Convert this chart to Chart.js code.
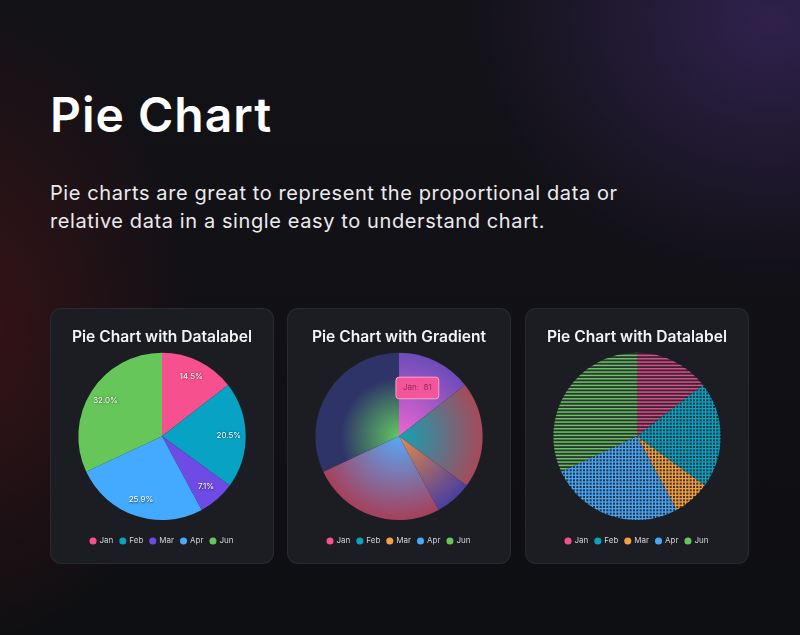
<!DOCTYPE html>
<html><head><meta charset="utf-8">
<script src="https://cdn.jsdelivr.net/npm/chart.js@4.4.1/dist/chart.umd.min.js"></script>
<style>
html,body{margin:0;padding:0;}
body{width:800px;height:635px;overflow:hidden;position:relative;font-family:Inter,'Open Sans',sans-serif;
background:
 radial-gradient(ellipse 300px 260px at 770px 20px, rgba(70,46,120,0.55), rgba(70,46,120,0) 100%),
 radial-gradient(ellipse 220px 320px at -30px 330px, rgba(100,22,24,0.45), rgba(100,22,24,0) 100%),
 linear-gradient(180deg,#131217 0%, #111015 55%, #0e0f12 100%);}
h1{position:absolute;left:50px;top:91px;margin:0;font-size:48px;font-weight:600;color:#ffffff;line-height:1;white-space:nowrap;letter-spacing:1px;}
p.desc{position:absolute;left:50px;top:179px;margin:0;font-size:20px;line-height:28px;color:#ebebee;white-space:nowrap;letter-spacing:0.6px;}
.card{position:absolute;top:308px;width:224px;height:256px;border-radius:11px;background:#1c1d23;box-shadow:inset 0 0 0 1px rgba(255,255,255,0.06);}
.card canvas{position:absolute;left:0;top:0;}
</style></head>
<body>
<h1>Pie Chart</h1>
<p class="desc">Pie charts are great to represent the proportional data or<br>relative data in a single easy to understand chart.</p>
<div class="card" style="left:50px"><canvas id="c1" width="224" height="300"></canvas></div>
<div class="card" style="left:287px"><canvas id="c2" width="224" height="300"></canvas></div>
<div class="card" style="left:525px"><canvas id="c3" width="224" height="300"></canvas></div>
<script>
const FONT = 'Inter';
const labels = ['Jan','Feb','Mar','Apr','Jun'];
const values = [81, 115, 40, 145, 179];
const chartTitles = ['Pie Chart with Datalabel','Pie Chart with Gradient','Pie Chart with Datalabel'];
const solidColors = ['#f7508e','#07a2c4','#6f4be6','#44aaff','#66c65a'];
const legendColors = ['#f7508e','#07a2c4','#f5a142','#44aaff','#66c65a'];
const gradientInner = ['#ee66d2','#12a2b6','#e88a46','#56a8f8','#62c862'];
const gradientOuter = ['#6c4cba','#a64a5a','#4a3f9e','#a6405a','#2e3468'];
const gradientStop = [1, 1, 1, 1, 0.7];
const patternColors = ['#d9508a','#0ba3c2','#f2a041','#4aa5f2','#6cc066'];
const patternKinds = ['lines','grid','grid','grid','lines'];

Chart.defaults.font.family = FONT;

function legendGen(colors){
  return function(chart){
    const base = (Chart.overrides.pie || Chart.overrides.doughnut).plugins.legend.labels.generateLabels(chart);
    base.forEach((it,i)=>{ it.fillStyle = colors[i]; it.strokeStyle = colors[i]; it.lineWidth = 0; });
    return base;
  };
}

function baseOptions(title, colors){
  return {
    responsive:false, animation:false,
    layout:{padding:{top:20,bottom:53,left:0,right:0}},
    plugins:{
      title:{display:true,text:title,color:'#f4f4f6',font:{family:FONT,size:15.6,weight:'600'},padding:{top:0,bottom:6}},
      legend:{position:'bottom',
        title:{display:true,text:'',font:{size:1},padding:{top:8.8,bottom:0}},
        labels:{usePointStyle:true,pointStyle:'circle',boxWidth:5,boxHeight:5,padding:7,color:'#d2d3d8',
          font:{family:FONT,size:8},generateLabels:legendGen(colors)}},
      tooltip:{enabled:false}
    }
  };
}

const percentLabels = {
  id:'percentLabels',
  afterDatasetsDraw(chart){
    const ctx = chart.ctx, meta = chart.getDatasetMeta(0), data = chart.data.datasets[0].data;
    const total = data.reduce((a,b)=>a+b,0);
    ctx.save();
    ctx.font = '400 8px ' + FONT; ctx.textAlign='center'; ctx.textBaseline='middle'; ctx.fillStyle='#ffffff';
    ctx.shadowColor='rgba(0,0,0,0.7)'; ctx.shadowBlur=2; ctx.shadowOffsetX=0.5; ctx.shadowOffsetY=0.5;
    meta.data.forEach((arc,i)=>{
      const p = arc.getProps(['x','y','startAngle','endAngle','outerRadius'],true);
      const a = (p.startAngle+p.endAngle)/2, r = p.outerRadius*0.8;
      ctx.fillText((data[i]/total*100).toFixed(1)+'%', p.x+Math.cos(a)*r, p.y+Math.sin(a)*r);
    });
    ctx.restore();
  }
};

// Chart 1
new Chart(document.getElementById('c1'), {
  type:'pie',
  data:{labels, datasets:[{data:values, backgroundColor:solidColors, borderWidth:0}]},
  options: baseOptions(chartTitles[0], solidColors),
  plugins:[percentLabels]
});

// Chart 2 (gradient)
function radialFill(c){
  const chart = c.chart, area = chart.chartArea;
  if (!area) return gradientInner[c.dataIndex];
  const cx = (area.left+area.right)/2, cy = (area.top+area.bottom)/2;
  const r = Math.min(area.right-area.left, area.bottom-area.top)/2;
  const g = chart.ctx.createRadialGradient(cx,cy,0,cx,cy,r);
  const i = c.dataIndex;
  g.addColorStop(0, gradientInner[i]);
  g.addColorStop(gradientStop[i], gradientOuter[i]);
  if (gradientStop[i] < 1) g.addColorStop(1, gradientOuter[i]);
  return g;
}
const o2 = baseOptions(chartTitles[1], legendColors);
o2.plugins.tooltip = {
  enabled:true, backgroundColor:'#f2559a', borderColor:'#f8a6c8', borderWidth:1, bodyColor:'#8e2c5a',
  displayColors:false, caretSize:0, caretPadding:0, cornerRadius:3, padding:{x:7,y:6},
  xAlign:'center', yAlign:'bottom', bodyFont:{family:FONT,size:8},
  callbacks:{title:()=>'', label:(c)=>c.label+':  '+c.formattedValue}
};
const chart2 = new Chart(document.getElementById('c2'), {
  type:'pie',
  data:{labels, datasets:[{data:values, backgroundColor:radialFill, borderWidth:0, hoverOffset:0}]},
  options:o2
});
chart2.tooltip.setActiveElements([{datasetIndex:0,index:0}], {x:0,y:0});
chart2.update();

// Chart 3 (patterns)
function makePattern(color, kind){
  const c = document.createElement('canvas'); c.width = 10; c.height = 10;
  const g = c.getContext('2d');
  g.globalAlpha = 0.16; g.fillStyle = color; g.fillRect(0,0,10,10);
  g.globalAlpha = 1;
  for (let k=0;k<3;k++){
    g.fillRect(0, k*10/3, 10, kind==='lines'?1.5:1.3);
    if (kind==='grid') g.fillRect(k*10/3, 0, 1.3, 10);
  }
  return g.createPattern(c,'repeat');
}
const patterns = patternColors.map((col,i)=>makePattern(col, patternKinds[i]));
new Chart(document.getElementById('c3'), {
  type:'pie',
  data:{labels, datasets:[{data:values, backgroundColor:patterns, borderWidth:0}]},
  options: baseOptions(chartTitles[2], legendColors)
});
</script>
</body></html>
